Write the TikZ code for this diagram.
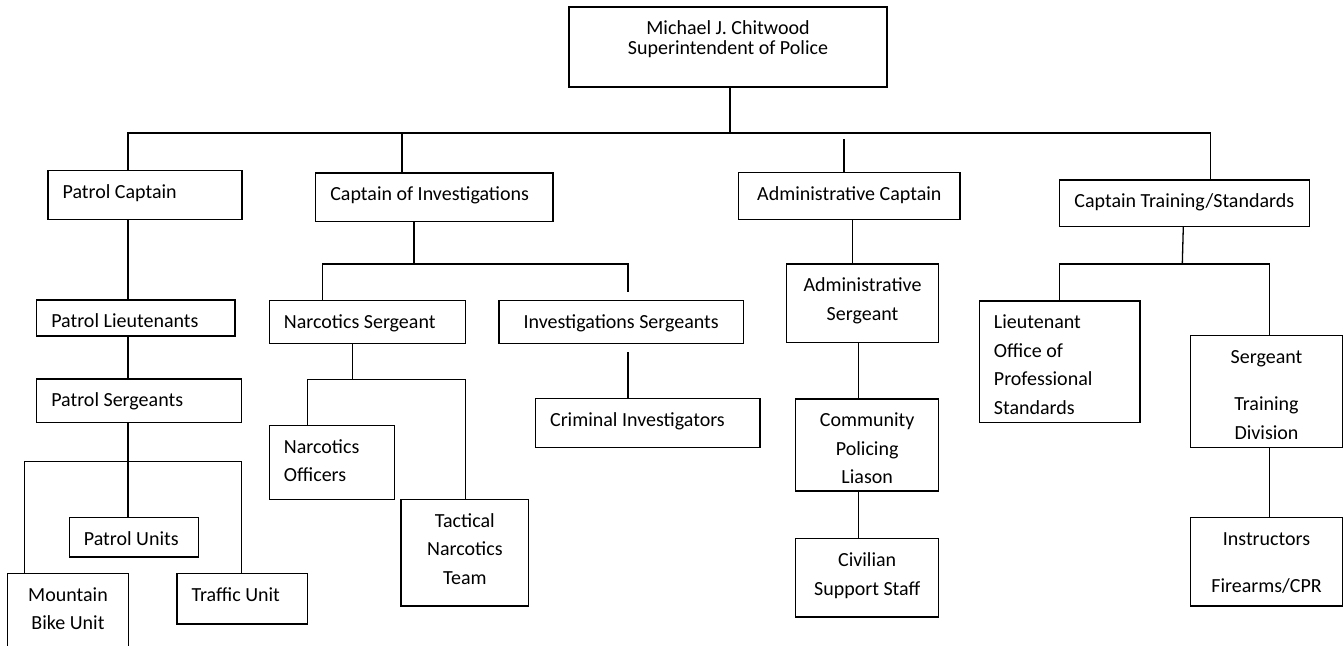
\documentclass[tikz,border=0pt]{standalone}
\usepackage{fontspec}
\setmainfont{Carlito}
\tikzset{
  bx/.style={draw, line width=0.65pt, inner sep=0pt, outer sep=0pt},
  ln/.style={line width=0.65pt}
}
\newcommand{\BoxC}[3]{\begin{minipage}[c][#2][t]{#1}\centering\fontsize{10}{14.25}\selectfont\vspace*{4pt}\rule{0pt}{10pt}#3\end{minipage}}
\newcommand{\BoxL}[3]{\begin{minipage}[c][#2][t]{#1}\raggedright\leftskip=7.3pt\fontsize{10}{14.25}\selectfont\vspace*{4pt}\rule{0pt}{10pt}#3\end{minipage}}
\begin{document}
\begin{tikzpicture}[x=0.5pt,y=-0.5pt]
\useasboundingbox (0,0) rectangle (1344,646);
\fill[white] (0,0) rectangle (1344,646);
% boxes
\node[bx] (top)  at (728,47)       {\BoxC{159pt}{40pt}{Michael J. Chitwood\\[-4.25pt]Superintendent of Police}};
\node[bx] (pcap) at (145,195)      {\BoxL{97pt}{24.3pt}{Patrol Captain}};
\node[bx] (cinv) at (434.35,197.35){\BoxL{118.65pt}{24.35pt}{Captain of Investigations}};
\node[bx] (acap) at (849.35,196)   {\BoxC{110.65pt}{23.3pt}{Administrative Captain}};
\node[bx] (cts)  at (1184.3,203.35){\BoxC{125pt}{23.35pt}{Captain Training/Standards}};
\node[bx] (plt)  at (135.85,318)   {\BoxL{99.15pt}{18pt}{Patrol Lieutenants}};
\node[bx] (nsg)  at (367.5,322)    {\BoxL{98.2pt}{21.3pt}{Narcotics Sergeant}};
\node[bx] (isg)  at (621.15,322)   {\BoxC{122.15pt}{21.3pt}{Investigations Sergeants}};
\node[bx] (asg)  at (862.5,303.15) {\BoxC{76.2pt}{39.15pt}{Administrative\\Sergeant}};
\node[bx] (lops) at (1059.65,361.65){\BoxL{80.35pt}{60.65pt}{Lieutenant\\Office of\\Professional\\Standards}};
\node[bx] (stg)  at (1266.5,391.7) {\BoxC{75.8pt}{56pt}{Sergeant\\[9.25pt]Training\\Division}};
\node[bx] (psg)  at (139.2,400.65) {\BoxL{102.5pt}{21.65pt}{Patrol Sergeants}};
\node[bx] (cri)  at (647.75,422.9) {\BoxL{112.25pt}{24.6pt}{Criminal Investigators}};
\node[bx] (cpl)  at (867.2,445)    {\BoxC{71.5pt}{46pt}{Community\\Policing\\Liason}};
\node[bx] (nof)  at (331.8,462.3)  {\BoxL{62.5pt}{37pt}{Narcotics\\Officers}};
\node[bx] (tnt)  at (464.85,552.65){\BoxC{63.85pt}{53.35pt}{Tactical\\Narcotics\\Team}};
\node[bx] (pun)  at (133.8,537.15) {\BoxL{64.5pt}{19.85pt}{Patrol Units}};
\node[bx] (ins)  at (1266.5,561.65){\BoxC{75.8pt}{44.35pt}{Instructors\\[9.5pt]Firearms/CPR}};
\node[bx] (civ)  at (867.2,577.85) {\BoxC{71.5pt}{39.15pt}{Civilian\\Support Staff}};
\node[bx] (mbu)  at (68,621.65)    {\BoxC{60.3pt}{48.35pt}{Mountain\\Bike Unit}};
\node[bx] (tru)  at (242.15,598.65){\BoxL{65.15pt}{25.35pt}{Traffic Unit}};
% top level
\coordinate (hL) at (128,133);
\coordinate (hR) at (1210.7,133);
\coordinate (hT) at (730,133);
\coordinate (hC) at (402,133);
\coordinate (aA) at (844,139.3);
\draw[ln] (top.south -| hT) -- (hT);
\draw[ln] (pcap.north -| hL) -- (hL) -- (hR) -- (cts.north -| hR);
\draw[ln] (hC) -- (cinv.north -| hC);
\draw[ln] (aA) -- (acap.north -| aA);
% patrol
\coordinate (pbl) at (24.3,461.7);
\coordinate (pbr) at (241.7,461.7);
\draw[ln] (pcap.south -| hL) -- (plt.north -| hL);
\draw[ln] (plt.south -| hL) -- (psg.north -| hL);
\draw[ln] (psg.south -| hL) -- (pun.north -| hL);
\draw[ln] (mbu.north -| pbl) -- (pbl) -- (pbr) -- (tru.north -| pbr);
% investigations
\coordinate (ij) at (414,264);
\coordinate (ibl) at (322.7,264);
\coordinate (ibr) at (628,264);
\coordinate (ibe) at (628,292);
\draw[ln] (cinv.south -| ij) -- (ij);
\draw[ln] (nsg.north -| ibl) -- (ibl) -- (ibr) -- (ibe);
\coordinate (nj) at (352.3,379.3);
\coordinate (nbl) at (307.7,379.3);
\coordinate (nbr) at (465.7,379.3);
\draw[ln] (nsg.south -| nj) -- (nj);
\draw[ln] (nof.north -| nbl) -- (nbl) -- (nbr) -- (tnt.north -| nbr);
\coordinate (cs) at (628,352.3);
\draw[ln] (cs) -- (cri.north -| cs);
% administrative
\coordinate (ax1) at (852.3,0);
\coordinate (ax2) at (858.7,0);
\draw[ln] (acap.south -| ax1) -- (asg.north -| ax1);
\draw[ln] (asg.south -| ax2) -- (cpl.north -| ax2);
\draw[ln] (cpl.south -| ax2) -- (civ.north -| ax2);
% training
\coordinate (tx) at (1183.3,0);
\coordinate (tj) at (1182.3,264);
\coordinate (tbl) at (1059.3,264);
\coordinate (tbr) at (1269.3,264);
\draw[ln] (cts.south -| tx) -- (tj);
\draw[ln] (lops.north -| tbl) -- (tbl) -- (tbr) -- (stg.north -| tbr);
\draw[ln] (stg.south -| tbr) -- (ins.north -| tbr);
\end{tikzpicture}
\end{document}
